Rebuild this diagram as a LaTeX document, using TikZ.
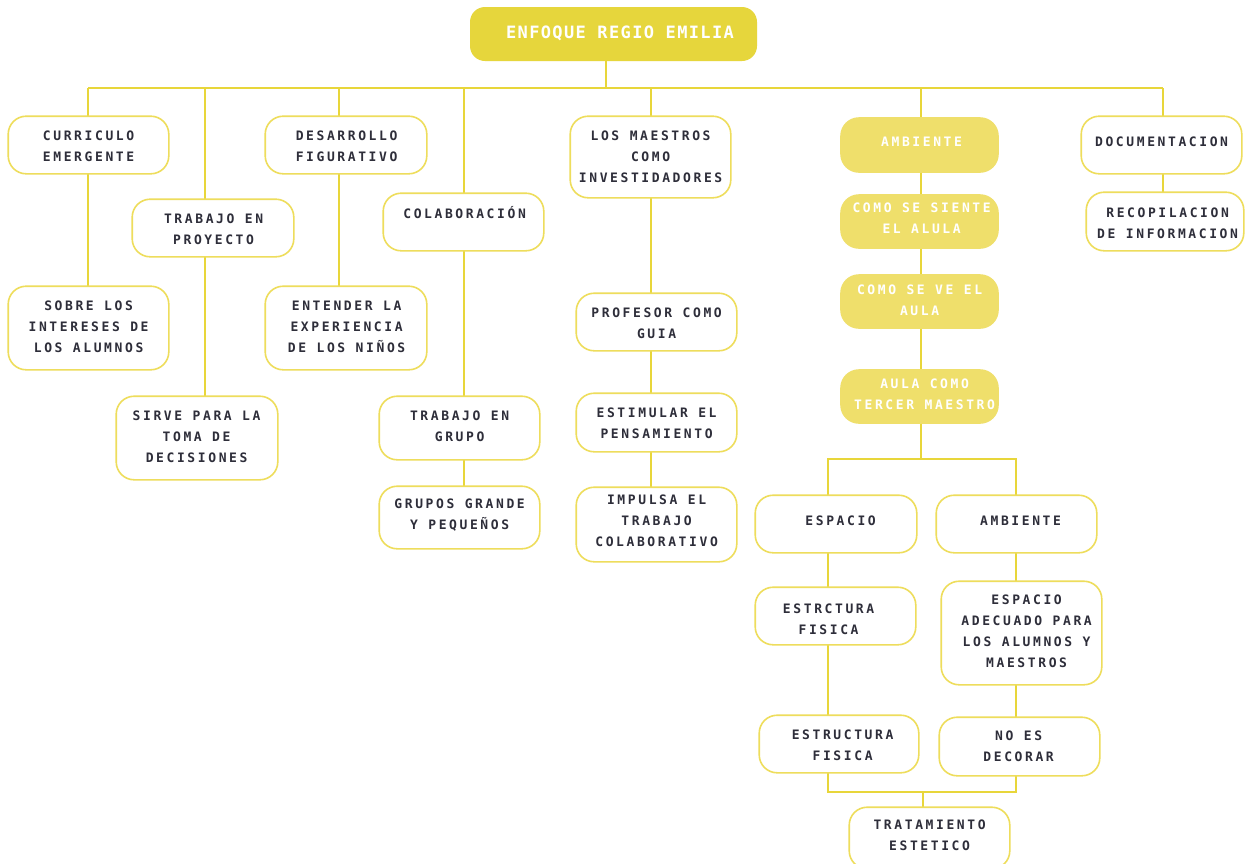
\documentclass[tikz,border=0pt]{standalone}
\usepackage{fontspec}
\newfontfamily\spacedmono{DejaVu Sans Mono}[LetterSpace=20]
\newfontfamily\titlemono{DejaVu Sans Mono}[LetterSpace=8]
\definecolor{gold}{HTML}{E6D63C}
\definecolor{palegold}{HTML}{EFDF6B}
\definecolor{rule}{HTML}{E8D63A}
\definecolor{edge}{HTML}{EEDD5C}
\definecolor{ink}{HTML}{2E2E3A}
\tikzset{
  box/.style={draw=edge, line width=1.6pt, fill=white, rounded corners=18pt,
    inner sep=0pt, rectangle},
  filledbox/.style={box, draw=palegold, fill=palegold},
  % letter spacing also pads the last glyph, so pull labels back a little
  txt/.style={inner sep=0pt, align=center, text=ink, xshift=-1.4pt,
    font=\spacedmono\bfseries\fontsize{13}{21}\selectfont},
  wtxt/.style={txt, text=white},
  link/.style={draw=rule, line width=1.6pt},
}
% box: name, cx, cy, width, height
\newcommand\bx[6][box]{\node[#1, minimum width=#5pt, minimum height=#6pt] (#2) at (#3,#4) {};}
\begin{document}
\begin{tikzpicture}[x=1pt,y=-1pt]
\useasboundingbox[fill=white] (0,0) rectangle (1247,863);

% title
\node[fill=gold, rounded corners=15pt, minimum width=287pt, minimum height=54pt,
  inner sep=0pt] (tit) at (613.5,34) {};
\node[inner sep=0pt, text=white, font=\titlemono\bfseries\fontsize{17}{20}\selectfont]
  (t-tit) at (620,33) {ENFOQUE REGIO EMILIA};

% branch points on the main bar
\coordinate (b1) at (88,88);
\coordinate (b2) at (205,88);
\coordinate (b3) at (339,88);
\coordinate (b4) at (464,88);
\coordinate (b5) at (651,88);
\coordinate (b6) at (921,88);
\coordinate (b7) at (1163,88);
\coordinate (s0) at (606,88);

% column 1
\bx{cur}{88.5}{145}{159}{56}
\bx{sob}{88.5}{328}{159}{82}
% column 2
\bx{tra}{213}{228}{160}{56}
\bx{sir}{197}{438}{160}{82}
% column 3
\bx{des}{346}{145}{160}{56}
\bx{ent}{346}{328}{160}{82}
% column 4
\bx{col}{463.5}{222}{159}{56}
\bx{tgr}{459.5}{428}{159}{62}
\bx{gru}{459.5}{517.5}{159}{61}
% column 5
\bx{mae}{650.5}{157}{159}{80}
\bx{pro}{656.5}{322}{159}{56}
\bx{est}{656.5}{422.5}{159}{57}
\bx{imp}{656.5}{524.5}{159}{73}
% column 6
\bx[filledbox]{amb}{919.5}{145}{157}{54}
\bx[filledbox]{sie}{919.5}{221.5}{157}{53}
\bx[filledbox]{vea}{919.5}{301.5}{157}{53}
\bx[filledbox]{aul}{919.5}{396.5}{157}{53}
\bx{esp}{836}{524}{160}{56}
\bx{amc}{1016.5}{524}{159}{56}
\bx{efa}{835.5}{616}{159}{56}
\bx{ade}{1021.5}{633}{159}{102}
\bx{efb}{839}{744}{158}{56}
\bx{noe}{1019.5}{746.5}{159}{57}
\bx{tes}{929.5}{838}{159}{60}
% column 7
\bx{doc}{1161.5}{145}{159}{56}
\bx{rec}{1165}{221.5}{156}{57}

% connectors
\draw[link] (tit.south -| s0) -- (s0);
\draw[link] (b1) -- (b7);
\draw[link] (b1) -- (b1 |- cur.north);
\draw[link] (b1 |- cur.south) -- (b1 |- sob.north);
\draw[link] (b2) -- (b2 |- tra.north);
\draw[link] (b2 |- tra.south) -- (b2 |- sir.north);
\draw[link] (b3) -- (b3 |- des.north);
\draw[link] (b3 |- des.south) -- (b3 |- ent.north);
\draw[link] (b4) -- (b4 |- col.north);
\draw[link] (b4 |- col.south) -- (b4 |- tgr.north);
\draw[link] (b4 |- tgr.south) -- (b4 |- gru.north);
\draw[link] (b5) -- (b5 |- mae.north);
\draw[link] (b5 |- mae.south) -- (b5 |- pro.north);
\draw[link] (b5 |- pro.south) -- (b5 |- est.north);
\draw[link] (b5 |- est.south) -- (b5 |- imp.north);
\draw[link] (b6) -- (b6 |- amb.north);
\draw[link] (b6 |- amb.south) -- (b6 |- sie.north);
\draw[link] (b6 |- sie.south) -- (b6 |- vea.north);
\draw[link] (b6 |- vea.south) -- (b6 |- aul.north);
\coordinate (f0) at (921,459);
\coordinate (fl) at (828,459);
\coordinate (fr) at (1016,459);
\draw[link] (b6 |- aul.south) -- (f0);
\draw[link] (fl |- esp.north) -- (fl) -- (fr) -- (fr |- amc.north);
\draw[link] (fl |- esp.south) -- (fl |- efa.north);
\draw[link] (fl |- efa.south) -- (fl |- efb.north);
\draw[link] (fr |- amc.south) -- (fr |- ade.north);
\draw[link] (fr |- ade.south) -- (fr |- noe.north);
\coordinate (jl) at (828,792);
\coordinate (jr) at (1016,792);
\coordinate (jm) at (923,792);
\draw[link] (fl |- efb.south) -- (jl) -- (jr) -- (fr |- noe.south);
\draw[link] (jm) -- (jm |- tes.north);
\draw[link] (b7) -- (b7 |- doc.north);
\draw[link] (b7 |- doc.south) -- (b7 |- rec.north);

% redraw boxes over the connectors
\foreach \n in {cur,sob,tra,sir,des,ent,col,tgr,gru,mae,pro,est,imp,esp,amc,efa,ade,efb,noe,tes,doc,rec}
  \draw[draw=edge, line width=1.6pt, fill=white, rounded corners=18pt]
    (\n.south west) rectangle (\n.north east);

% labels
\node[txt] (t-cur) at (90,146.5) {CURRICULO\\EMERGENTE};
\node[txt] (t-sob) at (90,327) {SOBRE LOS\\INTERESES DE\\LOS ALUMNOS};
\node[txt] (t-tra) at (215,229) {TRABAJO EN\\PROYECTO};
\node[txt] (t-sir) at (198,437) {SIRVE PARA LA\\TOMA DE\\DECISIONES};
\node[txt] (t-des) at (348,146.5) {DESARROLLO\\FIGURATIVO};
\node[txt] (t-ent) at (348,327) {ENTENDER LA\\EXPERIENCIA\\DE LOS NIÑOS};
\node[txt] (t-col) at (466,213) {COLABORACIÓN};
\node[txt] (t-tgr) at (461,426.5) {TRABAJO EN\\GRUPO};
\node[txt] (t-gru) at (461,515.5) {GRUPOS GRANDE\\Y PEQUEÑOS};
\node[txt] (t-mae) at (652,157) {LOS MAESTROS\\COMO\\INVESTIDADORES};
\node[txt] (t-pro) at (658,323.5) {PROFESOR COMO\\GUIA};
\node[txt] (t-est) at (658,423.5) {ESTIMULAR EL\\PENSAMIENTO};
\node[txt] (t-imp) at (658,521) {IMPULSA EL\\TRABAJO\\COLABORATIVO};
\node[wtxt] (t-amb) at (923,142) {AMBIENTE};
\node[wtxt] (t-sie) at (923,218) {COMO SE SIENTE\\EL ALULA};
\node[wtxt] (t-vea) at (921,300) {COMO SE VE EL\\AULA};
\node[wtxt] (t-aul) at (926,394.5) {AULA COMO\\TERCER MAESTRO};
\node[txt] (t-esp) at (842,521) {ESPACIO};
\node[txt] (t-amc) at (1022,521) {AMBIENTE};
\node[txt] (t-efa) at (830,619) {ESTRCTURA\\FISICA};
\node[txt] (t-ade) at (1028,631.5) {ESPACIO\\ADECUADO PARA\\LOS ALUMNOS Y\\MAESTROS};
\node[txt] (t-efb) at (844,745.5) {ESTRUCTURA\\FISICA};
\node[txt] (t-noe) at (1020,746.5) {NO ES\\DECORAR};
\node[txt] (t-tes) at (931,835.5) {TRATAMIENTO\\ESTETICO};
\node[txt] (t-doc) at (1163,142) {DOCUMENTACION};
\node[txt] (t-rec) at (1169,223.5) {RECOPILACION\\DE INFORMACION};
\end{tikzpicture}
\end{document}
